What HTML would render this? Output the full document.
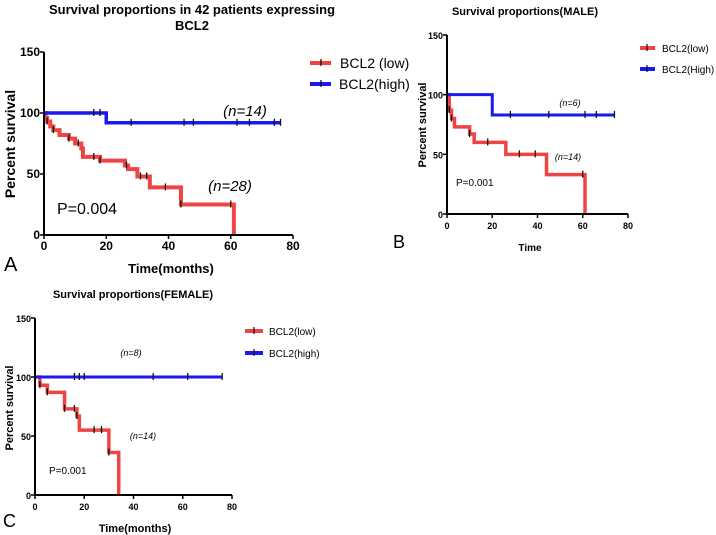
<!DOCTYPE html>
<html><head><meta charset="utf-8">
<style>
html,body{margin:0;padding:0;background:#fff;}
svg{display:block;font-family:"Liberation Sans",Arial,sans-serif;}
</style></head>
<body>
<svg id="chart" width="716" height="535" viewBox="0 0 716 535" xmlns="http://www.w3.org/2000/svg"></svg>
<script>
// Panel A data
const aLowTimes = [0,0.5,1,2,3,5,8,10,12,12.5,18,26,27,30,34,44,61];
const aLowSurv  = [100,96,93,89,86,82,79,75,71,64,61,57,54,48,39,25,0];
const aLowCens  = [1,3,8,11,16,18,26.5,31,33,39,44,60];
const aHighTimes = [0,20,76];
const aHighSurv  = [100,92,92];
const aHighCens  = [16,18,28,45,48,62,66,74,76];
// Panel B data
const bLowTimes = [0,1,2,3.3,10,12,26,44,61];
const bLowSurv  = [100,87,80,73,67,60,50,33,0];
const bLowCens  = [1,2,10,18,32,39,60];
const bHighTimes = [0,20,74];
const bHighSurv  = [100,83,83];
const bHighCens  = [28,45,61,66,74];
// Panel C data
const cLowTimes = [0,2,5,12,17,18,30,34];
const cLowSurv  = [100,93,87,73,67,55,36,0];
const cLowCens  = [2,5,12,16,17,24,27,30];
const cHighTimes = [0,76];
const cHighSurv  = [100,100];
const cHighCens  = [16,18,20,48,62,76];
const xTicks = [0,20,40,60,80];
const yTicks = [0,50,100,150];

const svg = document.getElementById('chart');
const NS = 'http://www.w3.org/2000/svg';
function mk(tag, attrs, parent){
  const e = document.createElementNS(NS, tag);
  for (const k in attrs) e.setAttribute(k, attrs[k]);
  (parent||svg).appendChild(e);
  return e;
}
function txt(s, x, y, size, opts, parent){
  const t = mk('text', Object.assign({x:x, y:y, 'font-size':size, fill:'#000'}, opts||{}), parent);
  t.textContent = s;
  return t;
}

function panel(cfg){
  const g = mk('g', {});
  
  
  const sx = v => cfg.x0 + (v/80)*(cfg.x1-cfg.x0);
  const sy = v => cfg.y0 - (v/150)*(cfg.y0-cfg.y1);
  // series
  function series(times, surv, cens, color, w, nm){
    let d = 'M' + sx(times[0]) + ' ' + sy(surv[0]);
    for (let i=1;i<times.length;i++){
      d += ' H' + sx(times[i]) + ' V' + sy(surv[i]);
    }
    const p = mk('path', {d:d, fill:'none', stroke:color, 'stroke-width':w}, g);
    
    
    cens.forEach(t=>{
      let s = surv[0];
      for (let i=0;i<times.length;i++) if (times[i] <= t) s = surv[i];
      const c = mk('line', {x1:sx(t), x2:sx(t), y1:sy(s)-4, y2:sy(s)+3, stroke:'#111', 'stroke-width':1.3}, g);
      
      
    });
  }
  series(cfg.low[0], cfg.low[1], cfg.low[2], '#ee4444', cfg.lw, 'bcl2-low');
  series(cfg.high[0], cfg.high[1], cfg.high[2], '#1a1aee', cfg.hw, 'bcl2-high');
  // axes
  const ax = mk('path', {d:'M'+cfg.x0+' '+cfg.y1+' V'+cfg.y0+' H'+cfg.x1, fill:'none', stroke:'#000', 'stroke-width':2}, g);
  
  
  xTicks.forEach(v=>{
    mk('line', {x1:sx(v), x2:sx(v), y1:cfg.y0, y2:cfg.y0+4, stroke:'#000', 'stroke-width':1.5}, g);
    const t = txt(String(v), sx(v), cfg.y0+15, cfg.fs, {'text-anchor':'middle','font-weight':'bold'}, g);
    
    
  });
  yTicks.forEach(v=>{
    mk('line', {x1:cfg.x0-4, x2:cfg.x0, y1:sy(v), y2:sy(v), stroke:'#000', 'stroke-width':1.5}, g);
    const t = txt(String(v), cfg.x0-4, sy(v)+4, cfg.fs, {'text-anchor':'end','font-weight':'bold'}, g);
    
    
  });
  return {sx, sy, g};
}

const A = panel({name:'panel-a', x0:44, x1:293, y0:235, y1:52, fs:12, lw:4, hw:3.5,
  low:[aLowTimes,aLowSurv,aLowCens], high:[aHighTimes,aHighSurv,aHighCens]});
const B = panel({name:'panel-b', x0:447, x1:628, y0:214, y1:35, fs:9, lw:3.5, hw:3,
  low:[bLowTimes,bLowSurv,bLowCens], high:[bHighTimes,bHighSurv,bHighCens]});
const C = panel({name:'panel-c', x0:35, x1:232, y0:495, y1:318, fs:9, lw:3.5, hw:3,
  low:[cLowTimes,cLowSurv,cLowCens], high:[cHighTimes,cHighSurv,cHighCens]});

function named(el, n){   return el; }

// Panel A text
named(txt('Survival proportions in 42 patients expressing', 192, 14, 13, {'text-anchor':'middle','font-weight':'bold'}), 'panel-a-title');
named(txt('BCL2', 192, 30, 13, {'text-anchor':'middle','font-weight':'bold'}), 'panel-a-title-line2');
named(txt('Percent survival', 0, 0, 14, {'text-anchor':'middle','font-weight':'bold', transform:'translate(15,144) rotate(-90)'}), 'panel-a-y-axis-title');
named(txt('Time(months)', 171, 273, 13, {'text-anchor':'middle','font-weight':'bold'}), 'panel-a-x-axis-title');
named(txt('A', 4, 271, 20, {}), 'panel-a-label');
named(txt('P=0.004', 57, 214, 16, {}), 'panel-a-p-value');
named(txt('(n=14)', 245, 116, 15, {'text-anchor':'middle','font-style':'italic'}), 'panel-a-n-high');
named(txt('(n=28)', 230, 191, 15, {'text-anchor':'middle','font-style':'italic'}), 'panel-a-n-low');
// Panel A legend
named(mk('line',{x1:310,x2:331,y1:63,y2:63,stroke:'#ee4444','stroke-width':4}), 'legend-low-swatch');
mk('line',{x1:321,x2:321,y1:59,y2:66,stroke:'#111','stroke-width':1.3});
named(txt('BCL2 (low)', 340, 68, 14, {}), 'legend-low-label');
named(mk('line',{x1:310,x2:331,y1:84,y2:84,stroke:'#1a1aee','stroke-width':4}), 'legend-high-swatch');
mk('line',{x1:321,x2:321,y1:80,y2:87,stroke:'#111','stroke-width':1.3});
named(txt('BCL2(high)', 339, 89, 14, {}), 'legend-high-label');

// Panel B text
named(txt('Survival proportions(MALE)', 525, 15, 11, {'text-anchor':'middle','font-weight':'bold'}), 'panel-b-title');
named(txt('Percent survival', 0, 0, 11, {'text-anchor':'middle','font-weight':'bold', transform:'translate(426,125) rotate(-90)'}), 'panel-b-y-axis-title');
named(txt('Time', 530, 251, 10, {'text-anchor':'middle','font-weight':'bold'}), 'panel-b-x-axis-title');
named(txt('B', 393, 248, 18, {}), 'panel-b-label');
named(txt('P=0.001', 456, 186, 10, {}), 'panel-b-p-value');
named(txt('(n=6)', 570, 106, 9, {'text-anchor':'middle','font-style':'italic'}), 'panel-b-n-high');
named(txt('(n=14)', 568, 160, 9, {'text-anchor':'middle','font-style':'italic'}), 'panel-b-n-low');
named(mk('line',{x1:640,x2:655,y1:48,y2:48,stroke:'#ee4444','stroke-width':4}), 'legend-b-low-swatch');
mk('line',{x1:647,x2:647,y1:44,y2:51,stroke:'#111','stroke-width':1.2});
named(txt('BCL2(low)', 662, 52, 10, {}), 'legend-b-low-label');
named(mk('line',{x1:640,x2:655,y1:69,y2:69,stroke:'#1a1aee','stroke-width':4}), 'legend-b-high-swatch');
mk('line',{x1:647,x2:647,y1:65,y2:72,stroke:'#111','stroke-width':1.2});
named(txt('BCL2(High)', 662, 73, 10, {}), 'legend-b-high-label');

// Panel C text
named(txt('Survival proportions(FEMALE)', 133, 298, 11, {'text-anchor':'middle','font-weight':'bold'}), 'panel-c-title');
named(txt('Percent survival', 0, 0, 11, {'text-anchor':'middle','font-weight':'bold', transform:'translate(13,408) rotate(-90)'}), 'panel-c-y-axis-title');
named(txt('Time(months)', 135, 532, 11, {'text-anchor':'middle','font-weight':'bold'}), 'panel-c-x-axis-title');
named(txt('C', 3, 527, 18, {}), 'panel-c-label');
named(txt('P=0.001', 49, 474, 10, {}), 'panel-c-p-value');
named(txt('(n=8)', 131, 356, 9, {'text-anchor':'middle','font-style':'italic'}), 'panel-c-n-high');
named(txt('(n=14)', 143, 439, 9, {'text-anchor':'middle','font-style':'italic'}), 'panel-c-n-low');
named(mk('line',{x1:245,x2:263,y1:331,y2:331,stroke:'#ee4444','stroke-width':4}), 'legend-c-low-swatch');
mk('line',{x1:254,x2:254,y1:327,y2:334,stroke:'#111','stroke-width':1.2});
named(txt('BCL2(low)', 269, 335, 10, {}), 'legend-c-low-label');
named(mk('line',{x1:245,x2:263,y1:353,y2:353,stroke:'#1a1aee','stroke-width':4}), 'legend-c-high-swatch');
mk('line',{x1:254,x2:254,y1:349,y2:356,stroke:'#111','stroke-width':1.2});
named(txt('BCL2(high)', 269, 357, 10, {}), 'legend-c-high-label');
</script>
</body></html>
